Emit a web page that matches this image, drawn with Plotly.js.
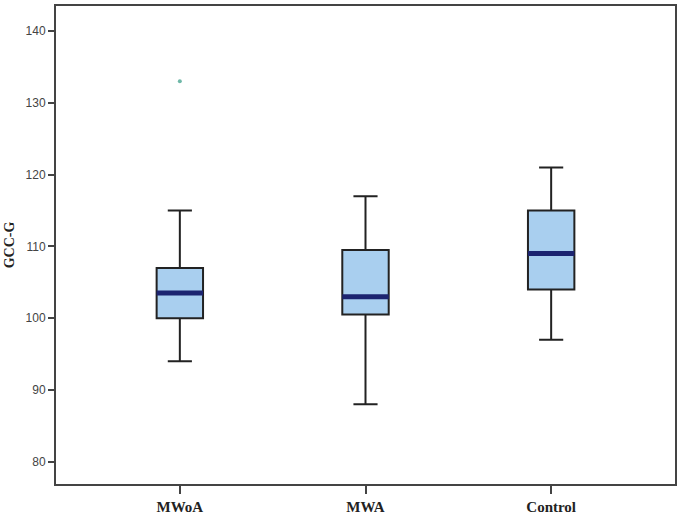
<!DOCTYPE html>
<html>
<head>
<meta charset="utf-8">
<script src="https://cdn.plot.ly/plotly-3.0.1.min.js"></script>
<style>html,body{margin:0;padding:0;background:#fff}#chart{width:677px;height:516px}</style>
</head>
<body>
<div id="chart"></div>
<script>
// Data
const categories = ["MWoA", "MWA", "Control"];
const lowerWhisker = [94, 88, 97];
const q1 = [100, 100.5, 104];
const medians = [103.5, 103, 109];
const q3 = [107, 109.5, 115];
const upperWhisker = [115, 117, 121];
const outlierGroup = ["MWoA"];
const outlierValues = [133];
const yTicks = [80, 90, 100, 110, 120, 130, 140];

const pos = categories.map((c, i) => i);
const boxW = 0.25;

const medX = [], medY = [];
pos.forEach((p, i) => {
  medX.push(p - boxW / 2, p + boxW / 2, null);
  medY.push(medians[i], medians[i], null);
});

const traces = [
  {
    type: 'box',
    x: pos,
    q1: q1,
    median: medians,
    q3: q3,
    lowerfence: lowerWhisker,
    upperfence: upperWhisker,
    boxpoints: false,
    width: boxW,
    whiskerwidth: 0.52,
    fillcolor: '#A9CFEF',
    line: {color: '#222222', width: 2},
    hoverinfo: 'skip',
    showlegend: false
  },
  {
    type: 'scatter',
    mode: 'lines',
    x: medX,
    y: medY,
    line: {color: '#1C2470', width: 5},
    hoverinfo: 'skip',
    showlegend: false
  },
  {
    type: 'scatter',
    mode: 'markers',
    x: outlierGroup.map(g => categories.indexOf(g)),
    y: outlierValues,
    marker: {color: '#6FB8A8', size: 4},
    hoverinfo: 'skip',
    showlegend: false
  }
];

const layout = {
  width: 677,
  height: 516,
  margin: {l: 56, r: 2, t: 6, b: 32},
  paper_bgcolor: '#ffffff',
  plot_bgcolor: '#ffffff',
  showlegend: false,
  xaxis: {
    range: [-0.667, 2.667],
    tickvals: pos,
    ticktext: categories,
    ticks: 'outside',
    ticklen: 8,
    tickwidth: 2,
    tickcolor: '#444',
    showgrid: false,
    zeroline: false,
    showline: true,
    linecolor: '#444',
    linewidth: 2,
    mirror: true,
    tickfont: {family: 'Liberation Serif, Times New Roman, serif', size: 15, color: '#222', weight: 'bold'}
  },
  yaxis: {
    range: [76.9, 143.5],
    tickvals: yTicks,
    ticktext: yTicks.map(String),
    ticks: 'outside',
    ticklen: 6,
    tickwidth: 2,
    tickcolor: '#444',
    showgrid: false,
    zeroline: false,
    showline: true,
    linecolor: '#444',
    linewidth: 2,
    mirror: true,
    tickfont: {family: 'Liberation Sans, Arial, sans-serif', size: 12, color: '#444'},
    title: {text: 'GCC-G', font: {family: 'Liberation Serif, Times New Roman, serif', size: 14, color: '#222', weight: 'bold'}, standoff: 8}
  }
};

Plotly.newPlot('chart', traces, layout, {displayModeBar: false, staticPlot: true});
</script>
</body>
</html>
